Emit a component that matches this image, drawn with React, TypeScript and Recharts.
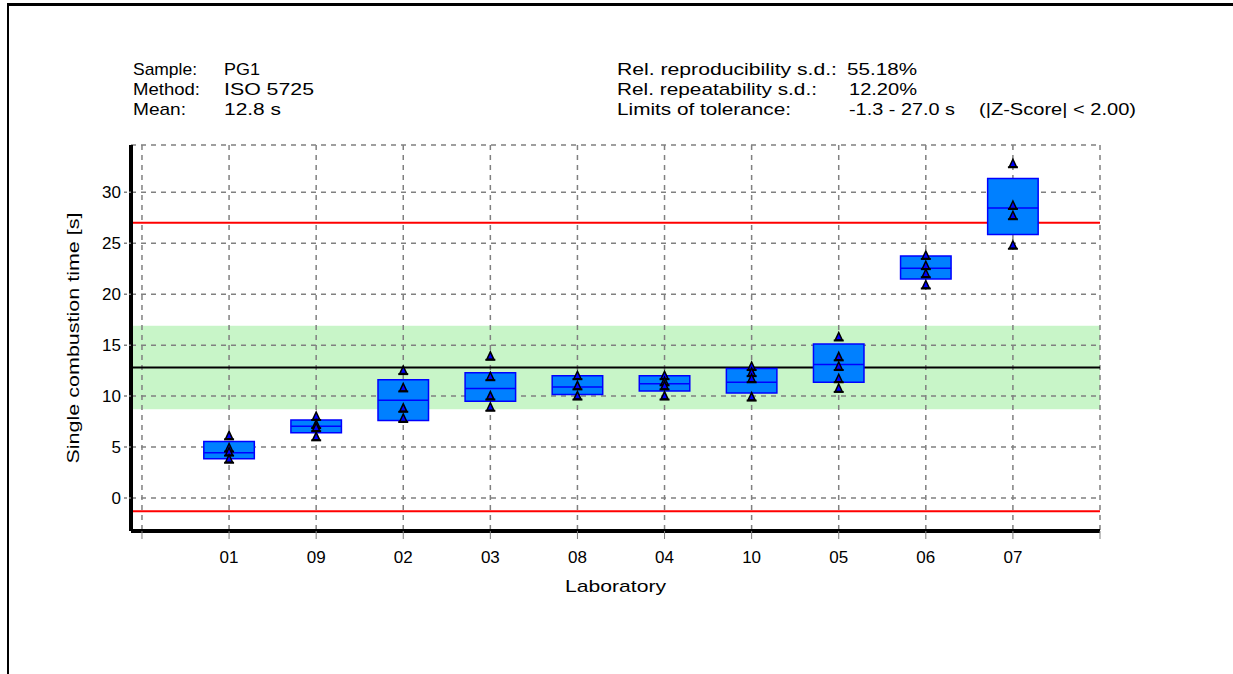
import React from "react";
import {
  CartesianGrid,
  ComposedChart,
  ReferenceArea,
  ReferenceLine,
  Scatter,
  XAxis,
  YAxis,
} from "recharts";

// laboratories in plotted order
const labs = ["01", "09", "02", "03", "08", "04", "10", "05", "06", "07"];

// box statistics per lab
const boxLow = [3.85, 6.4, 7.6, 9.5, 10.15, 10.5, 10.3, 11.35, 21.5, 25.85];
const boxMedian = [4.45, 7.05, 9.6, 10.75, 10.9, 11.2, 11.35, 13.1, 22.55, 28.45];
const boxHigh = [5.55, 7.65, 11.6, 12.3, 12.0, 12.0, 12.7, 15.1, 23.75, 31.35];

// single results per lab
const replicates = [
  [6.1, 4.9, 4.5, 3.8],
  [8.0, 7.2, 6.9, 6.0],
  [12.5, 10.8, 8.8, 7.8],
  [13.9, 11.9, 10.0, 8.9],
  [12.0, 11.0, 10.0],
  [12.0, 11.4, 11.0, 10.0],
  [12.9, 12.3, 11.7, 9.9],
  [15.8, 13.85, 12.9, 11.7, 10.75],
  [23.8, 22.8, 22.0, 20.9],
  [32.8, 28.7, 27.7, 24.8],
];

const meanValue = 12.8;
const toleranceLow = -1.3;
const toleranceHigh = 27.0;
const bandLow = 8.7;
const bandHigh = 16.9;

const xTicks = [0, 1, 2, 3, 4, 5, 6, 7, 8, 9, 10, 11];
const yMajorTicks = [0, 5, 10, 15, 20, 25, 30];
const yMinorTicks = [
  -3, -2, -1, 0, 1, 2, 3, 4, 5, 6, 7, 8, 9, 10, 11, 12, 13, 14, 15, 16, 17, 18,
  19, 20, 21, 22, 23, 24, 25, 26, 27, 28, 29, 30, 31, 32, 33, 34,
];

const xDomain = [-0.126, 11];
const yDomain = [-3.24, 34.64];
const halfBox = 0.29;
const font = "'Liberation Sans', Arial, sans-serif";

const points = replicates.flatMap((vals, i) =>
  vals.map((v) => ({ x: i + 1, y: v }))
);

const Triangle = (props: any) => {
  const { cx, cy } = props;
  if (cx == null || cy == null) return null;
  return (
    <g>
      <polygon
        points={`${cx},${cy - 4.5} ${cx - 3.5},${cy + 3} ${cx + 3.5},${cy + 3}`}
        fill="#0000ff"
        stroke="#000"
        strokeWidth={1.5}
      />
      <line x1={cx - 5} x2={cx + 5} y1={cy + 3.5} y2={cy + 3.5} stroke="#000" strokeWidth={2} />
    </g>
  );
};

const HeaderText = ({ x, y, len, children }: any) => (
  <text x={x} y={y} textLength={len} lengthAdjust="spacingAndGlyphs" fontSize={17} fill="#000">
    {children}
  </text>
);

const App = () => {
  return (
    <div style={{ position: "absolute", left: 0, top: 0, width: 1233, height: 674, background: "#fff" }}>
      <div
        style={{
          position: "absolute",
          left: 7,
          top: 3,
          width: 1300,
          height: 700,
          borderTop: "3px solid #000",
          borderLeft: "2px solid #000",
        }}
      />
      <svg
        width={1233}
        height={130}
        style={{ position: "absolute", left: 0, top: 0, fontFamily: font }}
      >
        <HeaderText x={133} y={75} len={64}>Sample:</HeaderText>
        <HeaderText x={224} y={75} len={36}>PG1</HeaderText>
        <HeaderText x={133} y={95} len={67}>Method:</HeaderText>
        <HeaderText x={224} y={95} len={90}>ISO 5725</HeaderText>
        <HeaderText x={133} y={115} len={53}>Mean:</HeaderText>
        <HeaderText x={224} y={115} len={57}>12.8 s</HeaderText>
        <HeaderText x={617} y={75} len={220}>Rel. reproducibility s.d.:</HeaderText>
        <HeaderText x={847} y={75} len={70}>55.18%</HeaderText>
        <HeaderText x={617} y={95} len={200}>Rel. repeatability s.d.:</HeaderText>
        <HeaderText x={849} y={95} len={68}>12.20%</HeaderText>
        <HeaderText x={617} y={115} len={174}>Limits of tolerance:</HeaderText>
        <HeaderText x={849} y={115} len={106}>-1.3 - 27.0 s</HeaderText>
        <HeaderText x={979} y={115} len={157}>(|Z-Score| &lt; 2.00)</HeaderText>
      </svg>
      <div style={{ position: "absolute", left: 0, top: 0 }}>
        <ComposedChart
          width={1233}
          height={674}
          margin={{ top: 145, right: 133, bottom: 83, left: 0 }}
          style={{ fontFamily: font }}
        >
          <ReferenceArea
            y1={bandLow}
            y2={bandHigh}
            x1={xDomain[0]}
            x2={xDomain[1]}
            fill="#00d100"
            fillOpacity={0.216}
            stroke="none"
            ifOverflow="hidden"
            zIndex={-200}
          />
          <CartesianGrid stroke="#808080" strokeDasharray="5 5" strokeWidth={1.5} />
          <XAxis
            dataKey="x"
            type="number"
            domain={xDomain}
            allowDataOverflow
            ticks={xTicks}
            interval={0}
            tickFormatter={(v: number) => (v >= 1 && v <= 10 ? labs[v - 1] : "")}
            tick={{ fill: "#000", fontSize: 17 }}
            tickSize={8}
            tickMargin={12}
            tickLine={{ stroke: "#808080" }}
            axisLine={{ stroke: "#000", strokeWidth: 4 }}
            height={60}
            label={{
              content: ({ viewBox }: any) => (
                <text
                  x={viewBox.x + viewBox.width / 2}
                  y={592}
                  textAnchor="middle"
                  fontSize={17}
                  fill="#000"
                  textLength={101}
                  lengthAdjust="spacingAndGlyphs"
                >
                  Laboratory
                </text>
              ),
            }}
          />
          <XAxis
            xAxisId="top"
            orientation="top"
            type="number"
            domain={xDomain}
            allowDataOverflow
            height={0}
            tick={false}
            tickLine={false}
            axisLine={{ stroke: "#404040", strokeWidth: 2 }}
          />
          <YAxis
            yAxisId="minor"
            type="number"
            domain={yDomain}
            allowDataOverflow
            ticks={yMinorTicks}
            interval={0}
            width={0}
            tickSize={3}
            tickFormatter={() => ""}
            tickLine={{ stroke: "#808080", strokeWidth: 1.5 }}
            axisLine={false}
          />
          <YAxis
            type="number"
            domain={yDomain}
            allowDataOverflow
            ticks={yMajorTicks}
            interval={0}
            width={131}
            tickSize={7}
            tickMargin={3}
            tick={{ fill: "#000", fontSize: 17 }}
            tickLine={{ stroke: "#808080", strokeWidth: 1.5, strokeDasharray: "3 2" }}
            axisLine={{ stroke: "#000", strokeWidth: 4 }}
            label={{
              content: ({ viewBox }: any) => (
                <text
                  x={75}
                  y={viewBox.y + viewBox.height / 2}
                  textAnchor="middle"
                  dominantBaseline="middle"
                  fontSize={17}
                  fill="#000"
                  textLength={251}
                  lengthAdjust="spacingAndGlyphs"
                  transform={`rotate(-90, 75, ${viewBox.y + viewBox.height / 2})`}
                >
                  Single combustion time [s]
                </text>
              ),
            }}
          />
          <YAxis
            yAxisId="right"
            orientation="right"
            type="number"
            domain={yDomain}
            allowDataOverflow
            width={0}
            tick={false}
            tickLine={false}
            axisLine={{ stroke: "#404040", strokeWidth: 2 }}
          />
          <ReferenceLine y={toleranceHigh} stroke="#ff0000" strokeWidth={2} zIndex={110} />
          <ReferenceLine y={toleranceLow} stroke="#ff0000" strokeWidth={2} zIndex={110} />
          <ReferenceLine y={meanValue} stroke="#000" strokeWidth={2} zIndex={110} />
          {labs.map((lab, i) => (
            <ReferenceArea
              key={`box-${lab}`}
              x1={i + 1 - halfBox}
              x2={i + 1 + halfBox}
              y1={boxLow[i]}
              y2={boxHigh[i]}
              fill="#0080ff"
              fillOpacity={1}
              stroke="#0000ff"
              strokeWidth={1.5}
              zIndex={120}
            />
          ))}
          {labs.map((lab, i) => (
            <ReferenceLine
              key={`med-${lab}`}
              segment={[
                { x: i + 1 - halfBox, y: boxMedian[i] },
                { x: i + 1 + halfBox, y: boxMedian[i] },
              ]}
              stroke="#0000ff"
              strokeWidth={1.5}
              zIndex={130}
            />
          ))}
          <Scatter
            data={points}
            dataKey="y"
            shape={<Triangle />}
            isAnimationActive={false}
          />
        </ComposedChart>
      </div>
    </div>
  );
};

export default App;
